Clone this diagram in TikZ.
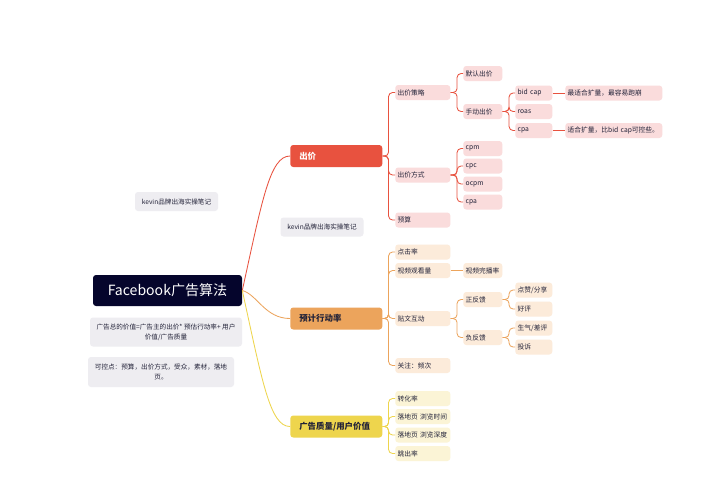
\documentclass[tikz,border=0pt]{standalone}
\usepackage{fontspec}
\setmainfont{Noto Sans CJK SC}
\usepackage{tikz}

\definecolor{navy}{HTML}{05052C}
\definecolor{ink}{HTML}{222238}
\definecolor{notegray}{HTML}{EEEDF1}
\definecolor{chured}{HTML}{E8523F}
\definecolor{chufill}{HTML}{FADCDC}
\definecolor{yuor}{HTML}{ECA45C}
\definecolor{yufill}{HTML}{FCEBDA}
\definecolor{ggye}{HTML}{EED54D}
\definecolor{ggfill}{HTML}{FBF4D6}

\tikzset{
	box/.style={rounded corners=0.75mm, inner xsep=0.6mm, inner ysep=0pt, anchor=west, align=left,
		minimum height=3.75mm, text=ink, font=\fontsize{4.8}{6}\selectfont},
	chu/.style={box, fill=chufill},
	yu/.style={box, fill=yufill},
	gg/.style={box, fill=ggfill},
	wa/.style={text width=12.55mm},
	wb/.style={text width=8.55mm},
	wc/.style={text width=8.05mm},
	wd/.style={text width=23.05mm},
	topic/.style={rounded corners=0.75mm, anchor=west, align=left, minimum height=5.5mm,
		inner xsep=2.25mm, inner ysep=0pt, text width=18.5mm, font=\fontsize{6}{7}\selectfont\bfseries},
	note/.style={fill=notegray, rounded corners=0.75mm, align=center, text=ink, inner sep=0pt,
		font=\fontsize{4.7}{7}\selectfont},
	redline/.style={draw=chured, line width=0.6pt, rounded corners=1mm},
	orline/.style={draw=yuor, line width=0.6pt, rounded corners=1mm},
	yeline/.style={draw=ggye, line width=0.6pt, rounded corners=1mm}
}

\begin{document}
\begin{tikzpicture}[x=0.25mm,y=-0.25mm]
	\useasboundingbox[fill=white] (0,0) rectangle (722,490);

	\node[fill=navy, rounded corners=0.75mm, minimum width=37.25mm, minimum height=7.75mm, text=white,
		font=\fontsize{10}{12}\selectfont] (fb) at (167.5,290.5) {Facebook广告算法};
	\node[note, minimum width=20.75mm, minimum height=4.75mm] (nt1) at (176.5,201.5) {kevin品牌出海实操笔记};
	\node[note, minimum width=20.75mm, minimum height=4.75mm] (nt2) at (322,227) {kevin品牌出海实操笔记};
	\node[note, minimum width=38mm, minimum height=7.25mm] (ntv) at (166,332)
		{广告总的价值=广告主的出价* 预估行动率+ 用户\\价值/广告质量};
	\node[note, minimum width=36.5mm, minimum height=7.5mm] (ntk) at (161,372)
		{可控点：预算，出价方式，受众，素材，落地\\页。};

	% main branches
	\node[topic, fill=chured, text=white] (cj) at (290,156) {出价};
	\node[topic, fill=yuor, text=ink] (yx) at (290,318.5) {预计行动率};
	\node[topic, fill=ggye, text=ink] (zl) at (290,426.5) {广告质量/用户价值};

	\draw[chured, line width=0.6pt] (fb.east) .. controls +(20,-91) and +(-20,0) .. (cj.west);
	\draw[yuor, line width=0.6pt] (fb.east) .. controls +(15,4) and +(-25,0) .. (yx.west);
	\draw[ggye, line width=0.6pt] (fb.east) .. controls +(20,91) and +(-20,0) .. (zl.west);

	% 出价
	\node[chu,wa] (cl) at (395,92.5) {出价策略};
	\node[chu,wb] (mr) at (463,73.5) {默认出价};
	\node[chu,wb] (sd) at (463,111.5) {手动出价};
	\node[chu,wc] (bc) at (515,93) {bid cap};
	\node[chu,wc] (ro) at (515,111.5) {roas};
	\node[chu,wc] (ca) at (515,130.5) {cpa};
	\node[chu,wd] (bcn) at (565,93) {\mbox{最适合扩量，最容易跑崩}};
	\node[chu,wd] (can) at (565,130.5) {\mbox{适合扩量，比bid cap可控些。}};
	\node[chu,wa] (fs) at (395,175) {出价方式};
	\node[chu,wb] (cpm) at (463,148.5) {cpm};
	\node[chu,wb] (cpc) at (463,166) {cpc};
	\node[chu,wb] (ocpm) at (463,184) {ocpm};
	\node[chu,wb] (cpb) at (463,202) {cpa};
	\node[chu,wa] (ys) at (395,220) {预算};

	\foreach \c in {cl,fs,ys} \draw[redline] (cj.east) -- ++(6,0) |- (\c.west);
	\foreach \c in {mr,sd} \draw[redline] (cl.east) -- ++(6.5,0) |- (\c.west);
	\foreach \c in {bc,ro,ca} \draw[redline] (sd.east) -- ++(6.5,0) |- (\c.west);
	\foreach \c in {cpm,cpc,ocpm,cpb} \draw[redline] (fs.east) -- ++(6.5,0) |- (\c.west);
	\draw[redline] (bc.east) -- (bcn.west);
	\draw[redline] (ca.east) -- (can.west);

	% 预计行动率
	\node[yu,wa] (dj) at (395,252) {点击率};
	\node[yu,wa] (gk) at (395,270.5) {视频观看量};
	\node[yu,wb] (wbl) at (463,270.5) {视频完播率};
	\node[yu,wa] (hd) at (395,318.5) {贴文互动};
	\node[yu,wb] (zf) at (463,299.5) {正反馈};
	\node[yu,wb] (ff) at (463,337.5) {负反馈};
	\node[yu,wc] (dz) at (515,290) {点赞/分享};
	\node[yu,wc] (hp) at (515,309) {好评};
	\node[yu,wc] (sq) at (515,328) {生气/差评};
	\node[yu,wc] (ts) at (515,347) {投诉};
	\node[yu,wa] (gz) at (395,365.5) {关注：频次};

	\foreach \c in {dj,gk,hd,gz} \draw[orline] (yx.east) -- ++(6,0) |- (\c.west);
	\draw[orline] (gk.east) -- (wbl.west);
	\foreach \c in {zf,ff} \draw[orline] (hd.east) -- ++(6.5,0) |- (\c.west);
	\foreach \c in {dz,hp} \draw[orline] (zf.east) -- ++(6.5,0) |- (\c.west);
	\foreach \c in {sq,ts} \draw[orline] (ff.east) -- ++(6.5,0) |- (\c.west);

	% 广告质量/用户价值
	\node[gg,wa] (zh) at (395,398.5) {转化率};
	\node[gg,wa] (lt) at (395,416.5) {\mbox{落地页 浏览时间}};
	\node[gg,wa] (ls) at (395,435) {\mbox{落地页 浏览深度}};
	\node[gg,wa] (tc) at (395,453.5) {跳出率};

	\foreach \c in {zh,lt,ls,tc} \draw[yeline] (zl.east) -- ++(6,0) |- (\c.west);
\end{tikzpicture}
\end{document}
